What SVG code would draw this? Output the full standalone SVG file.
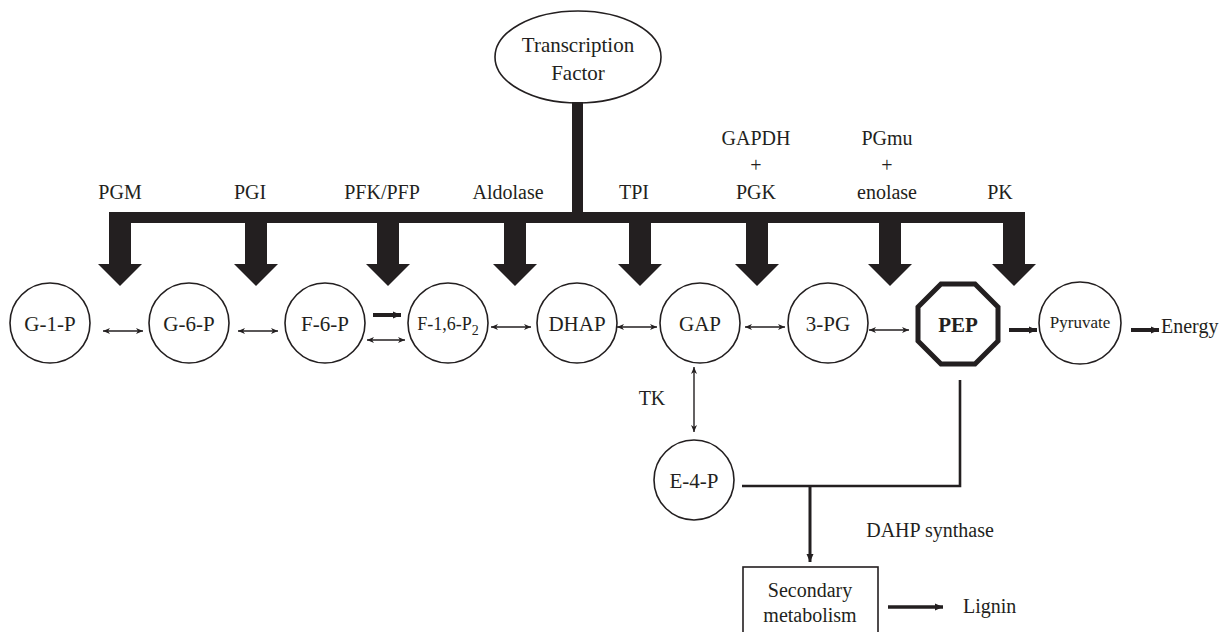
<svg xmlns="http://www.w3.org/2000/svg" width="1226" height="632" viewBox="0 0 1226 632">
<style>
text{font-family:"Liberation Serif","Times New Roman",serif;fill:#231f20;}
.lbl{font-size:20px;text-anchor:middle;}
.nt{font-size:21px;text-anchor:middle;}
.node{fill:#fff;stroke:#231f20;stroke-width:1.6;}
.thin{stroke:#231f20;stroke-width:1.4;fill:none;marker-start:url(#hs);marker-end:url(#he);}
.bold{stroke:#231f20;stroke-width:4;fill:none;marker-end:url(#hb);}
.line{stroke:#231f20;stroke-width:2.6;fill:none;}
.big{fill:#231f20;}
</style>
<defs>
<marker id="he" markerWidth="8" markerHeight="8" refX="7" refY="4" orient="auto" markerUnits="userSpaceOnUse"><path d="M0,1 L7,4 L0,7 L2,4 Z" fill="#231f20"/></marker>
<marker id="hs" markerWidth="8" markerHeight="8" refX="1" refY="4" orient="auto" markerUnits="userSpaceOnUse"><path d="M8,1 L1,4 L8,7 L6,4 Z" fill="#231f20"/></marker>
<marker id="hb" markerWidth="10" markerHeight="10" refX="8" refY="5" orient="auto" markerUnits="userSpaceOnUse"><path d="M0,1.5 L8,5 L0,8.5 Z" fill="#231f20"/></marker>
</defs>

<g id="transcription-factor">
<ellipse class="node" cx="578" cy="57" rx="83" ry="46"/>
<text class="nt" x="578" y="52">Transcription</text>
<text class="nt" x="578" y="80">Factor</text>
</g>

<g id="regulation">
<rect class="big" x="572" y="102" width="11" height="115"/>
<rect class="big" x="109" y="212" width="916" height="11"/>
<path class="big" d="M109,212 h22 v52 h11 l-22,22 l-22,-22 h11 Z"/>
<path class="big" d="M245,212 h22 v52 h11 l-22,22 l-22,-22 h11 Z"/>
<path class="big" d="M377,212 h22 v52 h11 l-22,22 l-22,-22 h11 Z"/>
<path class="big" d="M504,212 h22 v52 h11 l-22,22 l-22,-22 h11 Z"/>
<path class="big" d="M629,212 h22 v52 h11 l-22,22 l-22,-22 h11 Z"/>
<path class="big" d="M746,212 h22 v52 h11 l-22,22 l-22,-22 h11 Z"/>
<path class="big" d="M879,212 h22 v52 h11 l-22,22 l-22,-22 h11 Z"/>
<path class="big" d="M1003,212 h22 v52 h11 l-22,22 l-22,-22 h11 Z"/>
</g>

<g id="enzyme-labels">
<text class="lbl" x="120" y="199">PGM</text>
<text class="lbl" x="250" y="199">PGI</text>
<text class="lbl" x="382" y="199">PFK/PFP</text>
<text class="lbl" x="508" y="199">Aldolase</text>
<text class="lbl" x="634" y="199">TPI</text>
<text class="lbl" x="756" y="145">GAPDH</text>
<text class="lbl" x="756" y="172">+</text>
<text class="lbl" x="756" y="199">PGK</text>
<text class="lbl" x="887" y="145">PGmu</text>
<text class="lbl" x="887" y="172">+</text>
<text class="lbl" x="887" y="199">enolase</text>
<text class="lbl" x="1000" y="199">PK</text>
<text class="lbl" x="652" y="405">TK</text>
<text class="lbl" x="930" y="537">DAHP synthase</text>
</g>

<g id="G-1-P"><circle class="node" cx="50" cy="323" r="40"/><text class="nt" x="50" y="331">G-1-P</text></g>
<g id="G-6-P"><circle class="node" cx="189" cy="323" r="40"/><text class="nt" x="189" y="331">G-6-P</text></g>
<g id="F-6-P"><circle class="node" cx="325" cy="323" r="40"/><text class="nt" x="325" y="331">F-6-P</text></g>
<g id="F-1-6-P2"><circle class="node" cx="448" cy="323" r="40"/><text x="448" y="330" style="font-size:18px;text-anchor:middle">F-1,6-P<tspan dy="5" style="font-size:14px">2</tspan></text></g>
<g id="DHAP"><circle class="node" cx="577" cy="323" r="40"/><text class="nt" x="577" y="331">DHAP</text></g>
<g id="GAP"><circle class="node" cx="700" cy="323" r="40"/><text class="nt" x="700" y="331">GAP</text></g>
<g id="3-PG"><circle class="node" cx="828" cy="323" r="40"/><text class="nt" x="828" y="331">3-PG</text></g>
<g id="PEP"><polygon points="941,284 975,284 998,307 998,341 975,364 941,364 918,341 918,307" fill="#fff" stroke="#231f20" stroke-width="5"/><text class="nt" x="958" y="332" style="font-weight:bold">PEP</text></g>
<g id="Pyruvate"><circle class="node" cx="1080" cy="323" r="41"/><text x="1080" y="328" style="font-size:17px;text-anchor:middle">Pyruvate</text></g>
<g id="Energy"><text x="1161" y="333" style="font-size:20px">Energy</text></g>
<g id="E-4-P"><circle class="node" cx="694" cy="480" r="40"/><text class="nt" x="694" y="488">E-4-P</text></g>
<g id="secondary-metabolism"><rect x="743" y="567" width="135" height="66" fill="#fff" stroke="#231f20" stroke-width="1.6"/><text class="lbl" x="810" y="597">Secondary</text><text class="lbl" x="810" y="622">metabolism</text></g>
<g id="Lignin"><text x="963" y="613" style="font-size:20px">Lignin</text></g>

<g id="connectors">
<line class="thin" x1="103" y1="331" x2="143" y2="331"/>
<line class="thin" x1="238" y1="331" x2="278" y2="331"/>
<line class="bold" x1="373" y1="315" x2="401" y2="315"/>
<line class="thin" x1="367" y1="340" x2="405" y2="340"/>
<line class="thin" x1="491" y1="327" x2="531" y2="327"/>
<line class="thin" x1="617" y1="327" x2="657" y2="327"/>
<line class="thin" x1="745" y1="327" x2="785" y2="327"/>
<line class="thin" x1="869" y1="330" x2="909" y2="330"/>
<line class="bold" x1="1009" y1="330" x2="1037" y2="330"/>
<line class="bold" x1="1131" y1="330" x2="1159" y2="330"/>
<line class="thin" x1="694" y1="367" x2="694" y2="432"/>
<polyline class="line" points="742,486 960,486 960,380"/>
<line class="line" x1="810" y1="486" x2="810" y2="562" style="marker-end:url(#hb);stroke-width:3"/>
<line class="bold" x1="888" y1="607" x2="943" y2="607" style="stroke-width:3.5"/>
</g>
</svg>
